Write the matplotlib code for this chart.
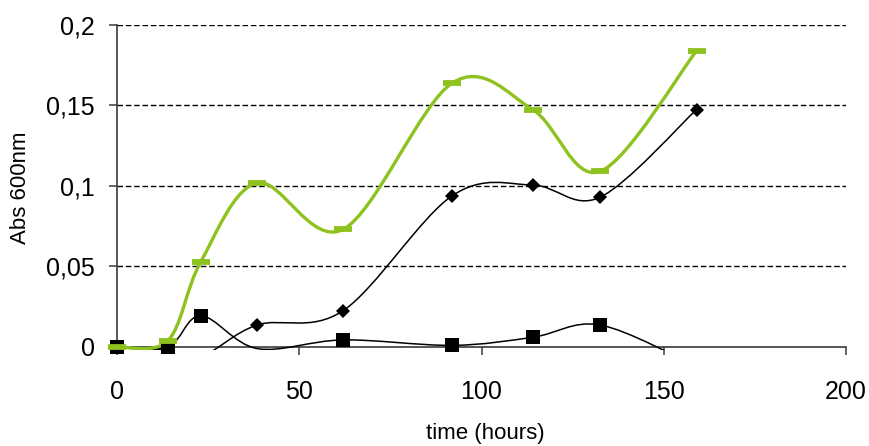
import numpy as np
import matplotlib
matplotlib.use("Agg")
import matplotlib.pyplot as plt
from matplotlib.path import Path
from matplotlib.patches import PathPatch, Rectangle

# data (time in hours, absorbance at 600 nm)
time_h = [0, 14, 23, 38.5, 62, 92, 114, 132.5, 159]
green_abs = [0.0, 0.004, 0.053, 0.102, 0.073, 0.164, 0.1475, 0.109, 0.184]
diamond_abs = [0.0, -0.002, -0.006, 0.0137, 0.0225, 0.094, 0.1006, 0.093, 0.1475]
square_abs = [0.0, 0.0, 0.0194, -0.001, 0.0044, 0.001, 0.006, 0.0137, -0.012]

x_ticks = [0, 50, 100, 150, 200]
y_ticks = [0, 0.05, 0.1, 0.15, 0.2]
y_labels = ["0", "0,05", "0,1", "0,15", "0,2"]

GREEN = "#8dc21f"

plt.rcParams['font.family'] = ['Liberation Sans', 'DejaVu Sans']


def smooth_path(xs, ys):
    # excel style smoothed line: bezier with catmull-rom control points
    p = np.column_stack([xs, ys]).astype(float)
    n = len(p)
    verts = [p[0]]
    codes = [Path.MOVETO]
    for i in range(n - 1):
        p0 = p[i - 1] if i > 0 else p[i]
        p3 = p[i + 2] if i + 2 < n else p[i + 1]
        c1 = p[i] + (p[i + 1] - p0) / 6.0
        c2 = p[i + 1] - (p3 - p[i]) / 6.0
        verts += [c1, c2, p[i + 1]]
        codes += [Path.CURVE4] * 3
    return Path(verts, codes)


fig = plt.figure(figsize=(8.69, 4.46), dpi=100)
ax = fig.add_axes([0.1346, 0.222, 0.839, 0.722])

ax.set_xlim(0, 200)
ax.set_ylim(0, 0.2)

# dashed gridlines
for yv in y_ticks[1:]:
    ax.axhline(yv, color="black", lw=1.0, ls=(0, (4, 2)), zorder=1)

series = [
    (square_abs, "black", 1.1, dict(marker="s", ms=10, mew=0)),
    (diamond_abs, "black", 1.1, dict(marker="D", ms=7.5, mew=0)),
    (green_abs, GREEN, 2.4, dict(marker="_", ms=13, mew=4.2)),
]
for vals, col, lw, mk in series:
    patch = PathPatch(smooth_path(time_h, vals), facecolor="none",
                      edgecolor=col, lw=lw, transform=ax.transData, zorder=3)
    ax.add_patch(patch)
    # plot area reaches a few pixels below the axis line, like excel
    clip = Rectangle((-5, -0.002), 210, 0.21, transform=ax.transData)
    patch.set_clip_path(clip)
    xs = np.array(time_h)
    ys = np.array(vals)
    keep = ys >= 0
    ax.plot(xs[keep], ys[keep], ls="none", color=col, zorder=4,
            clip_on=False, **mk)

for s in ["top", "right"]:
    ax.spines[s].set_visible(False)
for s in ["left", "bottom"]:
    ax.spines[s].set_color("#3a3a3a")
    ax.spines[s].set_linewidth(1.2)

ax.set_xticks(x_ticks)
ax.set_xticklabels([str(v) for v in x_ticks])
ax.set_yticks(y_ticks)
ax.set_yticklabels(y_labels)
ax.tick_params(axis="y", direction="out", length=6, width=1.1,
               color="#3a3a3a", labelsize=18, pad=10)
ax.tick_params(axis="x", direction="out", length=6, width=1.1,
               color="#3a3a3a", labelsize=18, pad=18)

fig.text(0.024, 0.578, "Abs 600nm", rotation=90, fontsize=16,
         ha="center", va="center")
fig.text(0.558, 0.027, "time (hours)", fontsize=16, ha="center", va="center")

fig.savefig("out.png", dpi=100)
